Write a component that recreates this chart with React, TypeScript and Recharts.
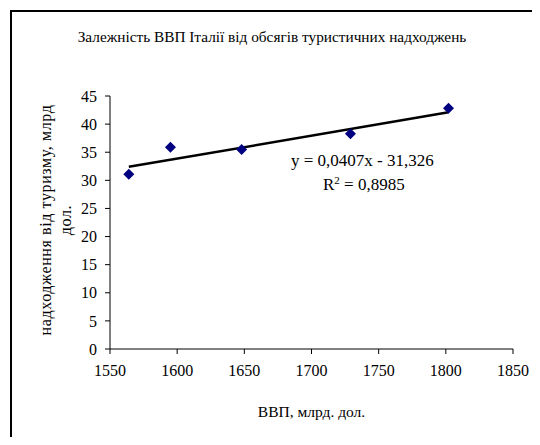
import { Scatter, ScatterChart, XAxis, YAxis, Label } from "recharts";

// ВВП (x) vs туристичні надходження (y)
const gdp = [1564, 1595, 1648, 1729, 1802];
const tourism = [31.1, 35.9, 35.5, 38.3, 42.8];

// linear trend line ends as drawn
const trendX = [1564, 1802];
const trendY = [32.4, 42.1];

const xTicks = [1550, 1600, 1650, 1700, 1750, 1800, 1850];
const yTicks = [0, 5, 10, 15, 20, 25, 30, 35, 40, 45];

const points = gdp.map((x, i) => ({ x, y: tourism[i] }));
const trend = trendX.map((x, i) => ({ x, y: trendY[i] }));

const font = "'Liberation Serif', 'Times New Roman', serif";

const Diamond = (props: any) => {
  const { cx, cy } = props;
  if (cx == null || cy == null) return null;
  const r = 5.5;
  return (
    <path
      d={`M${cx},${cy - r} L${cx + r},${cy} L${cx},${cy + r} L${cx - r},${cy} Z`}
      fill="#000080"
    />
  );
};

export default function App() {
  return (
    <div style={{ position: "relative", width: 540, height: 445, margin: -8, background: "#fff", fontFamily: font, overflow: "hidden" }}>
      {/* frame (only top/left visible) */}
      <div style={{ position: "absolute", left: 10, top: 10, width: 530, height: 435, borderTop: "2px solid #000", borderLeft: "2px solid #000" }} />

      <div style={{ position: "absolute", left: 0, top: 28, width: 544, textAlign: "center", fontSize: 15.3, lineHeight: "17px", color: "#000" }}>
        Залежність ВВП Італії від обсягів туристичних надходжень
      </div>

      <div
        style={{
          position: "absolute",
          left: 55.5 - 150,
          top: 200,
          width: 300,
          height: 40,
          transform: "rotate(-90deg)",
          textAlign: "center",
          fontSize: 16,
          lineHeight: "20px",
          letterSpacing: 0.6,
          color: "#000",
        }}
      >
        надходження від туризму, млрд
        <br />
        дол.
      </div>

      <div style={{ position: "absolute", left: 291, top: 151, fontSize: 17, lineHeight: "20px", color: "#000", whiteSpace: "nowrap" }}>
        y = 0,0407x - 31,326
      </div>
      <div style={{ position: "absolute", left: 323, top: 175, fontSize: 17, lineHeight: "20px", color: "#000", whiteSpace: "nowrap" }}>
        R<sup style={{ fontSize: 11, verticalAlign: 6, lineHeight: 0 }}>2</sup> = 0,8985
      </div>

      <div style={{ position: "absolute", left: 0, top: 0 }}>
        <ScatterChart width={540} height={445} margin={{ top: 96, right: 27, bottom: 66, left: 80 }}>
          <XAxis
            type="number"
            dataKey="x"
            domain={[1550, 1850]}
            ticks={xTicks}
            height={30}
            axisLine={{ stroke: "#000" }}
            tickLine={{ stroke: "#000" }}
            tickSize={5}
            tick={{ fill: "#000", fontSize: 16, fontFamily: font }}
            tickMargin={11}
          >
            <Label value="ВВП, млрд. дол." position="bottom" offset={27} style={{ fill: "#000", fontSize: 15.5, fontFamily: font }} />
          </XAxis>
          <YAxis
            type="number"
            dataKey="y"
            domain={[0, 45]}
            ticks={yTicks}
            width={30}
            axisLine={{ stroke: "#000" }}
            tickLine={{ stroke: "#000" }}
            tickSize={5}
            tick={{ fill: "#000", fontSize: 16, fontFamily: font }}
            tickMargin={8}
          />
          <Scatter
            data={trend}
            line={{ stroke: "#000", strokeWidth: 2.5 }}
            shape={() => null}
            isAnimationActive={false}
          />
          <Scatter data={points} shape={<Diamond />} isAnimationActive={false} />
        </ScatterChart>
      </div>
    </div>
  );
}
